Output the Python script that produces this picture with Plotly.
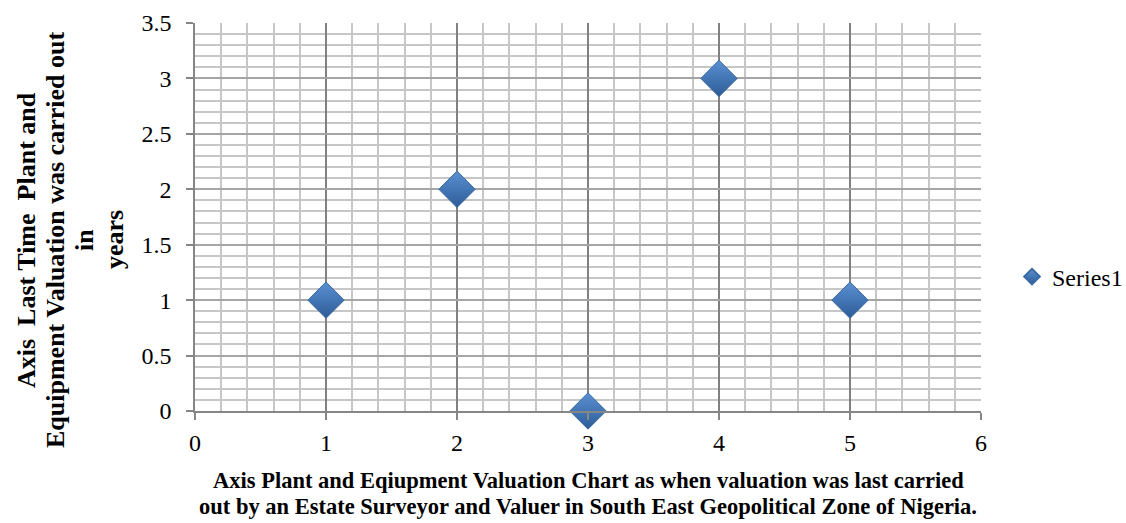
import plotly.graph_objects as go

x_vals = [1, 2, 3, 4, 5]
y_vals = [1, 2, 0, 3, 1]
series_name = "Series1"
x_ticks = [0, 1, 2, 3, 4, 5, 6]
y_ticks = [0, 0.5, 1, 1.5, 2, 2.5, 3, 3.5]
y_tick_text = ["0", "0.5", "1", "1.5", "2", "2.5", "3", "3.5"]
x_title_lines = ["Axis Plant and Eqiupment Valuation Chart as when valuation was last carried",
                 "out by an Estate Surveyor and Valuer in South East Geopolitical Zone of Nigeria."]
y_title_lines = ["Axis  Last Time  Plant and", "Equipment Valuation was carried out", "in", "years"]

FONT = "Liberation Serif, Times New Roman, serif"
L, R, T, B = 195, 145, 23, 112
W, H = 1126, 523
PW = W - L - R
PH = H - T - B
BOTTOM = H - B

fig = go.Figure()
fig.add_trace(go.Scatter(
    x=x_vals, y=y_vals, mode="markers", name=series_name,
    marker=dict(symbol="diamond", size=28, color="#5a90d2",
                line=dict(color="#3b6aa3", width=1),
                gradient=dict(type="vertical", color="#2d5c97")),
    cliponaxis=False, showlegend=True,
))

axis_common = dict(
    showline=True, linecolor="#868686", linewidth=1.5,
    ticks="outside", ticklen=7, tickcolor="#868686", tickwidth=1.5,
    showgrid=True, gridwidth=1.5,
    zeroline=False,
    tickfont=dict(family=FONT, size=24, color="black"),
)

fig.update_xaxes(range=[0, 6], tickvals=x_ticks, ticktext=[str(v) for v in x_ticks],
                 gridcolor="#808080", ticklabelstandoff=2,
                 minor=dict(dtick=0.2, showgrid=True, gridcolor="#c6c6c6", gridwidth=1.5, ticks=""),
                 **axis_common)
fig.update_yaxes(range=[0, 3.5], tickvals=y_ticks, ticktext=y_tick_text,
                 gridcolor="#a6a6a6", ticklabelstandoff=10,
                 minor=dict(dtick=0.1, showgrid=True, gridcolor="#c6c6c6", gridwidth=1.5, ticks=""),
                 **axis_common)

annotations = []
# x title lines
for line, py in zip(x_title_lines, [480, 506]):
    annotations.append(dict(
        text="<b>" + line + "</b>",
        xref="paper", yref="paper", x=0.5, y=(BOTTOM - py) / PH, xanchor="center", yanchor="middle",
        showarrow=False, font=dict(family=FONT, size=22.5, color="black"), align="center"))
# y title lines
y_pos_px = [26, 55, 84, 114]
for line, px in zip(y_title_lines, y_pos_px):
    annotations.append(dict(
        text="<b>" + line + "</b>", textangle=-90,
        xref="paper", yref="paper", x=(px - L) / PW, y=(BOTTOM - 240) / PH,
        xanchor="center", yanchor="middle", showarrow=False,
        font=dict(family=FONT, size=26, color="black")))

fig.update_layout(
    width=W, height=H,
    margin=dict(l=L, r=R, t=T, b=B, autoexpand=False),
    paper_bgcolor="white", plot_bgcolor="white",
    annotations=annotations,
    legend=dict(x=(1012 - L) / PW, y=(BOTTOM - 277) / PH, xanchor="left", yanchor="middle",
                font=dict(family=FONT, size=24, color="black"),
                itemsizing="constant", bgcolor="rgba(0,0,0,0)"),
    showlegend=True,
)

fig.write_html("out.html", config={"displayModeBar": False},
               post_script="document.body.style.margin='0';")
